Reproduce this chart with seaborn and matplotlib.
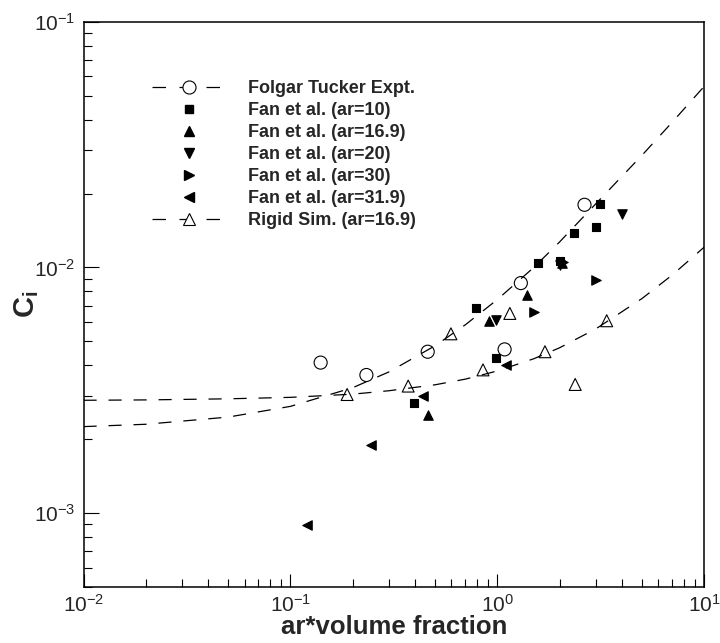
import numpy as np
import pandas as pd
import seaborn as sns
import matplotlib.pyplot as plt
from matplotlib.lines import Line2D
from matplotlib.ticker import LogLocator, NullFormatter, LogFormatterMathtext

# ---- 数据----
ft_x = [0.140, 0.233, 0.461, 1.085, 1.30, 2.64]
ft_y = [0.0041, 0.00365, 0.00454, 0.00464, 0.00864, 0.0180]

fan10_x = [0.394, 0.787, 0.99, 1.57, 2.0, 2.34, 3.0, 3.13]
fan10_y = [0.0028, 0.00687, 0.00427, 0.01047, 0.0106, 0.01386, 0.01457, 0.0181]

fan169_x = [0.461, 0.916, 1.39, 2.05]
fan169_y = [0.00251, 0.00603, 0.0077, 0.0104]

fan20_x = [0.99, 2.02, 4.0]
fan20_y = [0.00612, 0.0102, 0.0165]

fan30_x = [1.51, 3.0, 2.08]
fan30_y = [0.0066, 0.0089, 0.0105]

fan319_x = [0.120, 0.244, 0.436, 1.10]
fan319_y = [0.000898, 0.0019, 0.00299, 0.00401]

rigid_x = [0.188, 0.371, 0.597, 0.853, 1.15, 1.70, 2.38, 3.38]
rigid_y = [0.00304, 0.00329, 0.00537, 0.00383, 0.0065, 0.00454, 0.00334, 0.00607]

# 两条虚线拟合曲线（读取的采样点）
curve_x = [0.01, 0.02, 0.05, 0.1, 0.2, 0.3, 0.5, 0.7, 1.0, 1.5, 2.0, 3.0, 5.0, 7.0, 10.0]
curve_ft_y = [0.00225, 0.00230, 0.00246, 0.00272, 0.00324, 0.00376, 0.00480, 0.00584,
              0.00740, 0.01000, 0.01270, 0.01820, 0.02860, 0.03900, 0.05460]
curve_rigid_y = [0.00288, 0.00289, 0.00292, 0.00296, 0.00305, 0.00315, 0.00333, 0.00351,
                 0.00379, 0.00425, 0.00471, 0.00563, 0.00747, 0.00931, 0.01210]

labels = ['Folgar Tucker Expt.', 'Fan et al. (ar=10)', 'Fan et al. (ar=16.9)',
          'Fan et al. (ar=20)', 'Fan et al. (ar=30)', 'Fan et al. (ar=31.9)',
          'Rigid Sim. (ar=16.9)']

# ---- 样式 ----
sns.set_theme(style='ticks')
plt.rcParams['font.family'] = ['Liberation Sans', 'DejaVu Sans']
plt.rcParams['mathtext.fontset'] = 'custom'
plt.rcParams['mathtext.rm'] = 'Liberation Sans'
plt.rcParams['mathtext.bf'] = 'Liberation Sans:bold'
plt.rcParams['mathtext.it'] = 'Liberation Sans:italic'

fig = plt.figure(figsize=(7.2, 6.43), dpi=100)
ax = fig.add_axes([0.116, 0.087, 0.862, 0.879])

dash = (0, (10.5, 9.5))
sns.lineplot(x=curve_x, y=curve_ft_y, ax=ax, color='black', lw=0.9, linestyle=dash, sort=False)
sns.lineplot(x=curve_x, y=curve_rigid_y, ax=ax, color='black', lw=0.9, linestyle=dash, sort=False)

series = [
    (ft_x, ft_y, 'o', 9.4, 'none'),
    (fan10_x, fan10_y, 's', 6.3, 'black'),
    (fan169_x, fan169_y, '^', 6.8, 'black'),
    (fan20_x, fan20_y, 'v', 6.8, 'black'),
    (fan30_x, fan30_y, '>', 6.8, 'black'),
    (fan319_x, fan319_y, '<', 6.8, 'black'),
    (rigid_x, rigid_y, '^', 8.6, 'none'),
]
for (xs, ys, m, ms, fc), lab in zip(series, labels):
    df = pd.DataFrame({'x': xs, 'y': ys})
    sns.scatterplot(data=df, x='x', y='y', ax=ax, marker=m, s=ms ** 2,
                    facecolor=fc, edgecolor='black', linewidth=0.8, zorder=3)

ax.set_xscale('log')
ax.set_yscale('log')
ax.set_xlim(1e-2, 1e1)
ax.set_ylim(5e-4, 1e-1)

for axis in (ax.xaxis, ax.yaxis):
    axis.set_major_locator(LogLocator(base=10))
    axis.set_minor_locator(LogLocator(base=10, subs=np.arange(2, 10)))
    axis.set_major_formatter(LogFormatterMathtext())
    axis.set_minor_formatter(NullFormatter())

ax.tick_params(which='both', direction='in', top=False, right=False, width=0.8,
               labelsize=15, color='black')
ax.tick_params(axis='y', which='major', length=10.5, pad=6)
ax.tick_params(axis='x', which='major', length=9.5, pad=5)
ax.tick_params(which='minor', length=5.5)
for sp in ax.spines.values():
    sp.set_linewidth(1.1)
    sp.set_color('black')
    sp.set_visible(True)

ax.set_xlabel('ar*volume fraction', fontsize=18.5, fontweight='bold', labelpad=-1)
ax.set_ylabel(r'$\mathbf{C_i}$', fontsize=21)
ax.yaxis.set_label_coords(-0.068, 0.5)

# 图例
leg_dash = (0, (10.8, 10.8))
handles = [
    Line2D([], [], color='black', lw=0.9, ls=leg_dash, marker='o', ms=9.4,
           mfc='white', mec='black', mew=0.8),
    Line2D([], [], ls='none', marker='s', ms=6.3, color='black'),
    Line2D([], [], ls='none', marker='^', ms=6.8, color='black'),
    Line2D([], [], ls='none', marker='v', ms=6.8, color='black'),
    Line2D([], [], ls='none', marker='>', ms=6.8, color='black'),
    Line2D([], [], ls='none', marker='<', ms=6.8, color='black'),
    Line2D([], [], color='black', lw=0.9, ls=leg_dash, marker='^', ms=8.6,
           mfc='white', mec='black', mew=0.8),
]
ax.legend(handles, labels, loc='upper left', bbox_to_anchor=(0.110, 0.897),
          frameon=False, borderpad=0, borderaxespad=0, handlelength=4.15,
          handletextpad=1.2, labelspacing=0.28,
          prop={'weight': 'bold', 'size': 13})

fig.savefig('out.png', dpi=100)
